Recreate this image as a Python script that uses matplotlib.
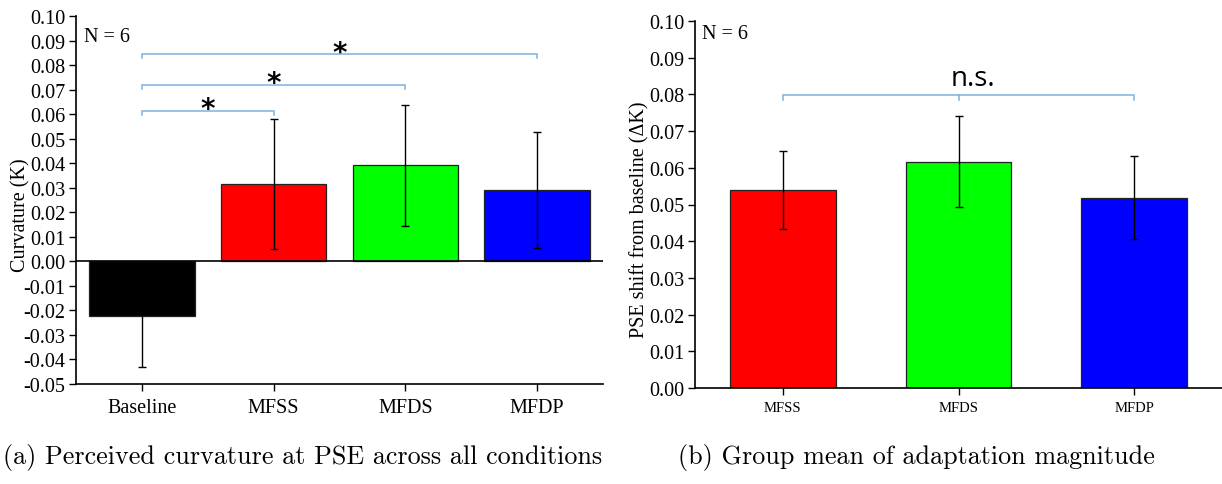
import matplotlib
matplotlib.use("Agg")
import matplotlib.pyplot as plt
from matplotlib.ticker import FixedLocator, FuncFormatter

plt.rcParams['font.family'] = ['Liberation Serif', 'DejaVu Serif']
plt.rcParams['axes.unicode_minus'] = False

# Panel (a): perceived curvature at PSE
cond_a = ['Baseline', 'MFSS', 'MFDS', 'MFDP']
mean_a = [-0.0224, 0.0315, 0.0392, 0.0292]
err_a = [0.0208, 0.0266, 0.0247, 0.0237]
colors_a = ['#000000', '#FF0000', '#00FF00', '#0000FF']

# Panel (b): PSE shift from baseline
cond_b = ['MFSS', 'MFDS', 'MFDP']
mean_b = [0.0540, 0.0617, 0.0518]
err_b = [0.0107, 0.0125, 0.0113]
colors_b = ['#FF0000', '#00FF00', '#0000FF']

# significance brackets: (left idx, right idx, height, label)
sig_a = [(0, 1, 0.0614, '*'), (0, 2, 0.0720, '*'), (0, 3, 0.0846, '*')]
sig_b_height = 0.0798

br_color = '#7EB0E2'
tick_fs = 14.5


def style_axes(ax):
    ax.spines['top'].set_visible(False)
    ax.spines['right'].set_visible(False)
    ax.spines['left'].set_linewidth(1.2)
    ax.spines['bottom'].set_linewidth(1.2)
    ax.tick_params(axis='both', direction='out', length=5, width=1.0, labelsize=tick_fs, pad=2.5)
    ax.yaxis.set_major_formatter(FuncFormatter(lambda v, p: '%.2f' % v))


def bracket(ax, x1, x2, y, drop, mid=False):
    ax.plot([x1, x1, x2, x2], [y - drop, y, y, y - drop], color=br_color, lw=1.1,
            solid_joinstyle='miter', zorder=4)
    if mid:
        xm = (x1 + x2) / 2
        ax.plot([xm, xm], [y, y - drop], color=br_color, lw=1.1, zorder=4)


fig = plt.figure(figsize=(12.22, 4.85), dpi=100)
ax1 = fig.add_axes([76 / 1222, 1 - 385 / 485, 527 / 1222, 368 / 485])
ax2 = fig.add_axes([695 / 1222, 1 - 389 / 485, 527 / 1222, 367 / 485])

# ---- (a)
xa = list(range(len(cond_a)))
ax1.bar(xa, mean_a, width=0.8, color=colors_a, edgecolor='#222222', linewidth=0.9, zorder=2)
ax1.errorbar(xa, mean_a, yerr=err_a, fmt='none', ecolor='black', elinewidth=1.0,
             capsize=3, capthick=1.0, zorder=3)
ax1.axhline(0, color='black', lw=1.2, zorder=3)
ax1.set_xlim(-0.5, 3.5)
ax1.set_ylim(-0.05, 0.10)
ax1.yaxis.set_major_locator(FixedLocator([round(-0.05 + 0.01 * i, 2) for i in range(16)]))
ax1.set_xticks(xa)
ax1.set_xticklabels(cond_a)
style_axes(ax1)
ax1.tick_params(axis='x', pad=5)
ax1.set_ylabel('Curvature (K)', fontsize=14.5)
ax1.yaxis.set_label_coords(-0.086, 0.462)
ax1.text(0.016, 0.945, 'N = 6', transform=ax1.transAxes, fontsize=14.5, va='center', ha='left')

for i, j, y, lab in sig_a:
    bracket(ax1, xa[i], xa[j], y, 0.0018)
    ax1.text((xa[i] + xa[j]) / 2, y + 0.0005, lab, ha='center', va='center',
             fontsize=20, fontweight='bold', family='DejaVu Sans')

# ---- (b)
xb = list(range(len(cond_b)))
ax2.bar(xb, mean_b, width=0.6, color=colors_b, edgecolor='#222222', linewidth=0.9, zorder=2)
ax2.errorbar(xb, mean_b, yerr=err_b, fmt='none', ecolor='black', elinewidth=1.0,
             capsize=3, capthick=1.0, zorder=3)
ax2.set_xlim(-0.5, 2.5)
ax2.set_ylim(0, 0.10)
ax2.yaxis.set_major_locator(FixedLocator([round(0.01 * i, 2) for i in range(11)]))
ax2.set_xticks(xb)
ax2.set_xticklabels(cond_b)
style_axes(ax2)
ax2.tick_params(axis='x', labelsize=10.5, pad=4)
ax2.set_ylabel('PSE shift from baseline (ΔK)', fontsize=14.5)
ax2.yaxis.set_label_coords(-0.087, 0.46)
ax2.text(0.014, 0.965, 'N = 6', transform=ax2.transAxes, fontsize=14.5, va='center', ha='left')

bracket(ax2, xb[0], xb[-1], sig_b_height, 0.0012, mid=True)
ax2.text(xb[1] + 0.08, sig_b_height + 0.0046, 'n.s.', ha='center', va='center',
         fontsize=20, family='Open Sans')

# captions
fig.text(602 / 1222, 0.056, '(a) Perceived curvature at PSE across all conditions',
         ha='right', va='center', fontsize=18.8, family='cmr10')
fig.text(916 / 1222, 0.056, '(b) Group mean of adaptation magnitude',
         ha='center', va='center', fontsize=18.8, family='cmr10')

fig.savefig('out.png', dpi=100)
